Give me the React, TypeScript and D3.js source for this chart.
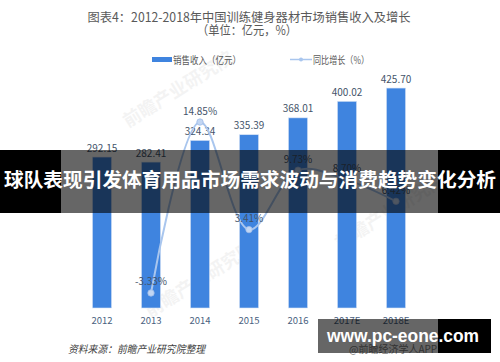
import React from 'react'
import * as d3 from 'd3'

const years = ['2012', '2013', '2014', '2015', '2016', '2017E', '2018E']
const revenue = [292.15, 282.41, 324.34, 335.39, 368.01, 400.02, 425.7]
const growth: (number | null)[] = [null, -3.33, 14.85, 3.41, 9.73, 8.7, 6.42]

const titleLines = ['图表4：2012-2018年中国训练健身器材市场销售收入及增长', '（单位：亿元，%）']
const legendLabels = ['销售收入（亿元）', '同比增长（%）']
const sourceText = '资料来源：前瞻产业研究院整理'
const bannerText = '球队表现引发体育用品市场需求波动与消费趋势变化分析'
const siteText = 'www.pc-eone.com'

const W = 500
const H = 362
const font = '"Noto Sans CJK SC", "Noto Sans", sans-serif'
const barColor = '#3f84df'
const lineColor = '#a9c6ee'
const labelColor = '#44546a'

const App = () => {
  const x = d3.scaleBand().domain(years).range([77.5, 420.5]).paddingInner(0.61).paddingOuter(0.305)
  const yBar = d3.scaleLinear().domain([0, 450]).range([308, 75.5])
  const yLine = d3.scaleLinear().domain([-5, 20]).range([308.7, 73.6])
  const cx = (y: string) => (x(y) as number) + x.bandwidth() / 2

  const pts = years
    .map((yr, i) => ({ yr, v: growth[i] }))
    .filter(d => d.v !== null) as { yr: string; v: number }[]

  const line = d3.line<{ yr: string; v: number }>()
    .x(d => cx(d.yr))
    .y(d => yLine(d.v))
    .curve(d3.curveCatmullRom.alpha(0.5))

  return (
    <svg width={W} height={H} style={{ position: 'absolute', left: 0, top: 0, background: '#fff' }}
      fontFamily={font}>
      <rect width={W} height={H} fill="#fff" />

      {/* title */}
      <text x={249} y={16} textAnchor="middle" dominantBaseline="central" fontSize={12.5} fill="#595959"
        textLength={323} lengthAdjust="spacingAndGlyphs">{titleLines[0]}</text>
      <text x={247} y={29} textAnchor="middle" dominantBaseline="central" fontSize={12.5} fill="#595959"
        textLength={100} lengthAdjust="spacingAndGlyphs">{titleLines[1]}</text>

      {/* legend */}
      <rect x={152} y={57} width={20} height={5} fill={barColor} />
      <text x={173} y={59.5} dominantBaseline="central" fontSize={10} fill="#595959"
        textLength={68} lengthAdjust="spacingAndGlyphs">{legendLabels[0]}</text>
      <line x1={290} x2={312} y1={59.5} y2={59.5} stroke={lineColor} strokeWidth={1.5} />
      <circle cx={301} cy={59.5} r={2} fill={lineColor} />
      <text x={313} y={59.5} dominantBaseline="central" fontSize={10} fill="#595959"
        textLength={56} lengthAdjust="spacingAndGlyphs">{legendLabels[1]}</text>

      {/* faint watermarks */}
      <text x={128} y={128} fontSize={18} fill="#000" opacity={0.045} transform="rotate(-32 128 128)"
        fontWeight="bold">前瞻产业研究院</text>
      <text x={150} y={318} fontSize={18} fill="#000" opacity={0.045} transform="rotate(-32 150 318)"
        fontWeight="bold">前瞻产业研究院</text>
      <text x={340} y={250} fontSize={18} fill="#000" opacity={0.045} transform="rotate(-32 340 250)"
        fontWeight="bold">前瞻产业研究院</text>

      {/* bars */}
      {years.map((yr, i) => (
        <g key={yr}>
          <rect x={x(yr)} y={yBar(revenue[i])} width={x.bandwidth()} height={yBar(0) - yBar(revenue[i])}
            fill={barColor} stroke="#d6e3f5" strokeWidth={0.6} />
          <text x={cx(yr)} y={yBar(revenue[i]) - 10} textAnchor="middle" dominantBaseline="central"
            fontSize={10} fill={labelColor}>{revenue[i].toFixed(2)}</text>
          <text x={cx(yr)} y={320} textAnchor="middle" dominantBaseline="central" fontSize={9.5}
            fill="#4a5f80">{yr}</text>
        </g>
      ))}

      {/* growth line */}
      <path d={line(pts) as string} fill="none" stroke={lineColor} strokeWidth={2} />
      {pts.map(d => (
        <g key={d.yr}>
          <circle cx={cx(d.yr)} cy={yLine(d.v)} r={3.2} fill="#c2d6f3" stroke="#9fbde8" strokeWidth={0.8} />
          <text x={cx(d.yr)} y={yLine(d.v) - 12} textAnchor="middle" dominantBaseline="central"
            fontSize={10} fill={labelColor}>{d.v.toFixed(2)}%</text>
        </g>
      ))}

      {/* source */}
      <text x={68} y={348} dominantBaseline="central" fontSize={10.5} fontStyle="italic" fill="#404040"
        textLength={137} lengthAdjust="spacingAndGlyphs">{sourceText}</text>
      <text x={349} y={348} dominantBaseline="central" fontSize={10} fill="#808080">@前瞻经济学人APP</text>

      {/* banner overlay */}
      <rect x={0} y={150} width={61} height={63} fill="#000" />
      <rect x={61} y={150} width={377} height={63} fill="#000" opacity={0.6} />
      <rect x={438} y={150} width={62} height={63} fill="#000" />
      <text x={250} y={178} textAnchor="middle" dominantBaseline="central" fontSize={19.5}
        fontWeight="bold" fill="#fff" textLength={492} lengthAdjust="spacingAndGlyphs">{bannerText}</text>

      {/* site box */}
      <rect x={318} y={319} width={120} height={34} fill="#000" opacity={0.6} />
      <rect x={438} y={319} width={53} height={34} fill="#000" />
      <text x={327} y={336} dominantBaseline="central" fontSize={18} fontWeight="bold" fill="#fff"
        fontFamily='"Liberation Sans", Arial, sans-serif' textLength={152} lengthAdjust="spacingAndGlyphs">{siteText}</text>
    </svg>
  )
}

export default App
